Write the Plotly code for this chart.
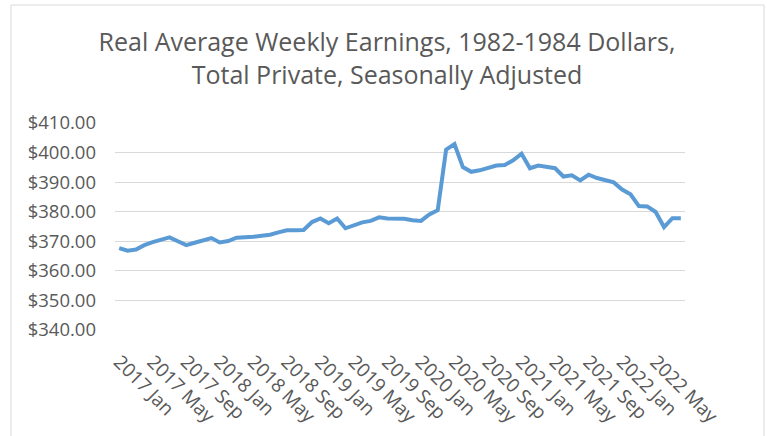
import plotly.graph_objects as go

months = ["Jan", "Feb", "Mar", "Apr", "May", "Jun", "Jul", "Aug", "Sep", "Oct", "Nov", "Dec"]
categories = [f"{y} {m}" for y in range(2017, 2023) for m in months][:68]  # 2017 Jan .. 2022 Aug

earnings = [
    367.7, 366.8, 367.2, 368.7, 369.7, 370.4, 371.3, 370.0, 368.7, 369.5, 370.3, 371.1,  # 2017
    369.6, 370.1, 371.2, 371.2, 371.5, 371.9, 372.2, 373.0, 373.7, 373.7, 373.8, 376.5,  # 2018
    377.7, 376.1, 377.7, 374.4, 375.4, 376.4, 376.9, 378.1, 377.7, 377.7, 377.6, 377.1,  # 2019
    376.9, 379.1, 380.5, 401.0, 402.9, 395.1, 393.5, 394.0, 394.7, 395.6, 395.8, 397.4,  # 2020
    399.6, 394.7, 395.6, 395.3, 394.7, 391.9, 392.3, 390.6, 392.5, 391.4, 390.6, 389.9,  # 2021
    387.5, 385.9, 381.9, 381.8, 379.9, 374.8, 377.8, 377.8,                              # 2022
]

tick_labels = categories[::4]
y_ticks = [340, 350, 360, 370, 380, 390, 400, 410]

title_text = ("Real Average Weekly Earnings, 1982-1984 Dollars,<br>"
              "Total Private, Seasonally Adjusted")

fig = go.Figure()
fig.add_trace(go.Scatter(
    x=categories, y=earnings, mode="lines",
    line=dict(color="#5b9bd5", width=4, shape="linear"),
    hoverinfo="x+y", showlegend=False,
))

W, H = 767, 436
L, R, T, B = 115, 82, 123, 106
pw, ph = W - L - R, H - T - B

def px_to_paper_x(px):
    return (px - L) / pw

def px_to_paper_y(py):
    return (H - B - py) / ph

fig.add_shape(type="rect", xref="paper", yref="paper",
              x0=px_to_paper_x(11), x1=px_to_paper_x(764),
              y0=px_to_paper_y(440), y1=px_to_paper_y(5),
              line=dict(color="#d9d9d9", width=1), fillcolor="rgba(0,0,0,0)", layer="below")

fig.update_layout(
    width=W, height=H, autosize=False,
    margin=dict(l=L, r=R, t=T, b=B, autoexpand=False),
    paper_bgcolor="white", plot_bgcolor="white",
    font=dict(family="Open Sans", color="#595959"),
    title=dict(text=title_text, x=387 / W, xref="container", xanchor="center",
               y=1 - 51 / H, yref="container", yanchor="top",
               font=dict(family="Open Sans", size=25, color="#595959")),
    xaxis=dict(type="category", range=[-0.5, len(categories) - 0.5],
               tickmode="array", tickvals=tick_labels, ticktext=tick_labels,
               tickangle=45, showgrid=False, zeroline=False, showline=False,
               ticks="", tickfont=dict(size=19, color="#595959"),
               ticklabelstandoff=16, automargin=False),
    yaxis=dict(range=[340, 410], tickmode="array", tickvals=y_ticks,
               tickformat="$,.2f", showgrid=True, gridcolor="#d9d9d9", gridwidth=1,
               zeroline=False, showline=False, ticks="",
               tickfont=dict(size=18.5, color="#595959"), ticklabelstandoff=18,
               automargin=False),
)

fig.write_html("out.html", config={"displayModeBar": False})

with open("out.html", "r", encoding="utf-8") as f:
    html = f.read()
html = html.replace("<head>", "<head><style>html,body{margin:0;padding:0;overflow:hidden;}</style>", 1)
with open("out.html", "w", encoding="utf-8") as f:
    f.write(html)
